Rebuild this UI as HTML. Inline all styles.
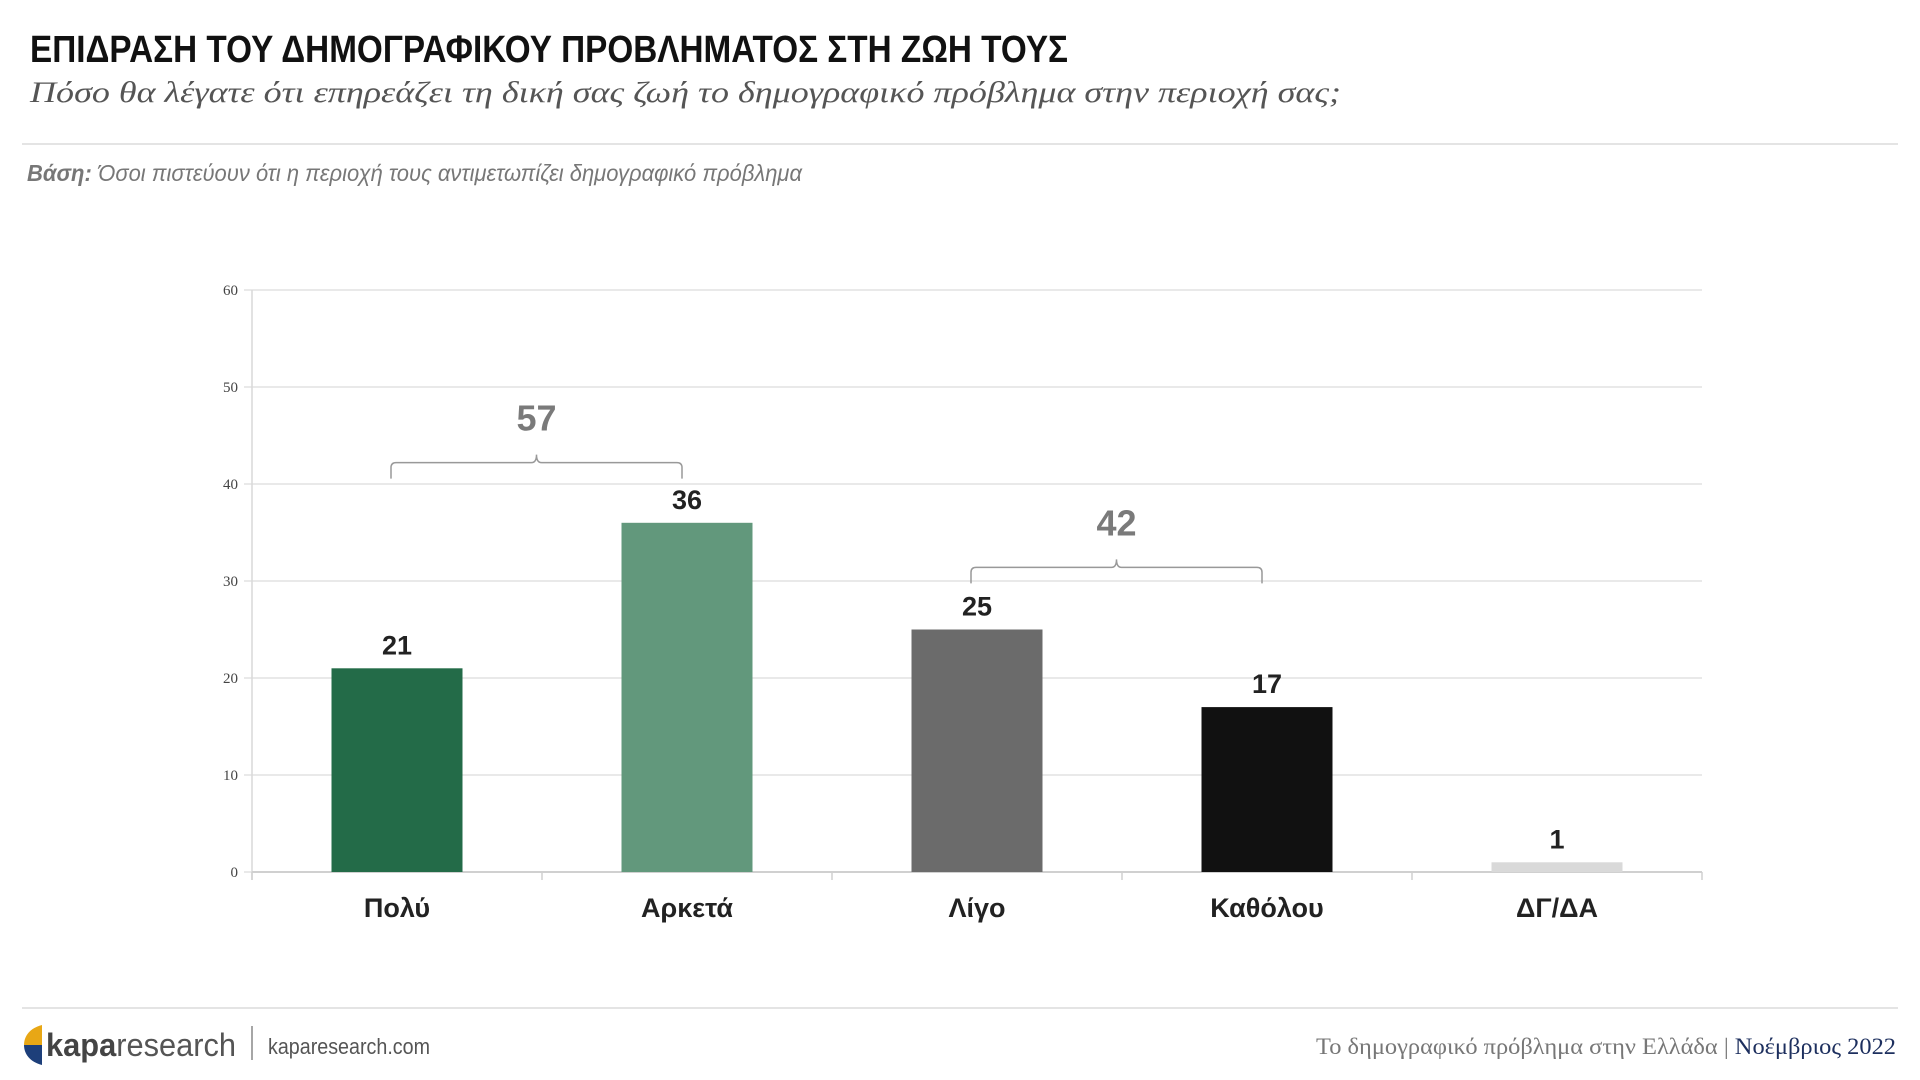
<!DOCTYPE html>
<html><head><meta charset="utf-8"><style>
body{margin:0;background:#fff;width:1920px;height:1080px;overflow:hidden}
svg{display:block}
</style></head><body>
<svg id="s" width="1920" height="1080" xmlns="http://www.w3.org/2000/svg">
<text x="30" y="62" font-family="'Liberation Sans Narrow','Liberation Sans',sans-serif" font-weight="bold" font-size="38" fill="#111" textLength="1038" lengthAdjust="spacingAndGlyphs">ΕΠΙΔΡΑΣΗ ΤΟΥ ΔΗΜΟΓΡΑΦΙΚΟΥ ΠΡΟΒΛΗΜΑΤΟΣ ΣΤΗ ΖΩΗ ΤΟΥΣ</text>
<text x="30" y="102" font-family="'Liberation Serif',serif" font-style="italic" font-size="30" fill="#555" textLength="1311" lengthAdjust="spacingAndGlyphs">Πόσο θα λέγατε ότι επηρεάζει τη δική σας ζωή το δημογραφικό πρόβλημα στην περιοχή σας;</text>
<line x1="22" y1="144" x2="1898" y2="144" stroke="#e4e4e4" stroke-width="2"/>
<text x="27" y="181" font-family="'Liberation Sans Narrow','Liberation Sans',sans-serif" font-style="italic" font-size="23" fill="#777" textLength="775" lengthAdjust="spacingAndGlyphs"><tspan font-weight="bold">Βάση:</tspan> Όσοι πιστεύουν ότι η περιοχή τους αντιμετωπίζει δημογραφικό πρόβλημα</text>
<g id="chart"></g>
<line x1="22" y1="1008" x2="1898" y2="1008" stroke="#e4e4e4" stroke-width="2"/>
<g>
<path d="M42 1025 C30 1028 24 1036 24 1045 L42 1045 Z" fill="#e8a715"/>
<path d="M42 1065 C30 1062 24 1054 24 1045 L42 1045 Z" fill="#1d3f7a"/>
<text x="46" y="1056" font-family="'Liberation Sans',sans-serif" font-size="32" fill="#555" textLength="190" lengthAdjust="spacingAndGlyphs"><tspan font-weight="bold" fill="#444">kapa</tspan>research</text>
</g>
<line x1="252" y1="1026" x2="252" y2="1060" stroke="#888" stroke-width="1.5"/>
<text x="268" y="1054" font-family="'Liberation Sans Narrow','Liberation Sans',sans-serif" font-size="22" fill="#555" textLength="162" lengthAdjust="spacingAndGlyphs">kaparesearch.com</text>
<text x="1896" y="1054" text-anchor="end" font-family="'Liberation Serif',serif" font-size="23" fill="#777" textLength="580" lengthAdjust="spacingAndGlyphs">Το δημογραφικό πρόβλημα στην Ελλάδα | <tspan fill="#1d2f5e">Νοέμβριος 2022</tspan></text>
</svg>
<script>
const categories=["Πολύ","Αρκετά","Λίγο","Καθόλου","ΔΓ/ΔΑ"];
const values=[21,36,25,17,1];
const barColors=["#236b48","#62987c","#6b6b6b","#111111","#d9d9d9"];
const yTicks=[0,10,20,30,40,50,60];
const groupTotals=[57,42];
const groupRanges=[[0,1],[2,3]];
const groupLevels=[42.2,31.4];

const NS="http://www.w3.org/2000/svg";
const g=document.getElementById("chart");
const X0=252,X1=1702,Y0=872,Y1=290,YMAX=60;
const band=(X1-X0)/categories.length;
const y=v=>Y0-(Y0-Y1)*v/YMAX;
const xc=i=>X0+band*(i+0.5);
const bw=131;
function mk(t,a,txt){const e=document.createElementNS(NS,t);for(const k in a)e.setAttribute(k,a[k]);if(txt!=null)e.textContent=txt;g.appendChild(e);return e;}

yTicks.forEach(t=>{
 const l=mk("line",{x1:X0-8,x2:X1,y1:y(t),y2:y(t),stroke:"#e2e2e2","stroke-width":1.5});
 
 
 const tx=mk("text",{x:X0-14,y:y(t)+5,"text-anchor":"end","font-family":"'Liberation Serif',serif","font-size":15,fill:"#444"},t);
 
 
});
const ax=mk("line",{x1:X0,x2:X0,y1:Y1,y2:Y0+8,stroke:"#d9d9d9","stroke-width":1.5});


const xa=mk("line",{x1:X0,x2:X1,y1:Y0,y2:Y0,stroke:"#d0d0d0","stroke-width":2});


for(let i=0;i<=categories.length;i++){
 const tk=mk("line",{x1:X0+band*i,x2:X0+band*i,y1:Y0,y2:Y0+8,stroke:"#d0d0d0","stroke-width":1.5});
 
 
}
categories.forEach((c,i)=>{
 const r=mk("rect",{x:xc(i)-bw/2,y:y(values[i]),width:bw,height:Y0-y(values[i]),fill:barColors[i]});
 
 
 const v=mk("text",{x:xc(i),y:y(values[i])-14,"text-anchor":"middle","font-family":"'Liberation Sans Narrow','Liberation Sans',sans-serif","font-weight":"bold","font-size":27,fill:"#222"},values[i]);
 
 
 const cl=mk("text",{x:xc(i),y:917,"text-anchor":"middle","font-family":"'Liberation Sans Narrow','Liberation Sans',sans-serif","font-weight":"bold","font-size":27,fill:"#222"},c);
 
 
});
groupTotals.forEach((tot,k)=>{
 const a=xc(groupRanges[k][0])-6,b=xc(groupRanges[k][1])-5,yy=y(groupLevels[k]),m=(a+b)/2;
 const p=mk("path",{d:`M${a} ${yy+16} L${a} ${yy+5} Q${a} ${yy} ${a+5} ${yy} L${m-5} ${yy} Q${m} ${yy} ${m} ${yy-8} Q${m} ${yy} ${m+5} ${yy} L${b-5} ${yy} Q${b} ${yy} ${b} ${yy+5} L${b} ${yy+16}`,fill:"none",stroke:"#999","stroke-width":1.5});
 
 
 const t=mk("text",{x:m,y:yy-32,"text-anchor":"middle","font-family":"'Liberation Sans Narrow','Liberation Sans',sans-serif","font-weight":"bold","font-size":36,fill:"#7a7a7a"},tot);
 
 
});
</script>
</body></html>
